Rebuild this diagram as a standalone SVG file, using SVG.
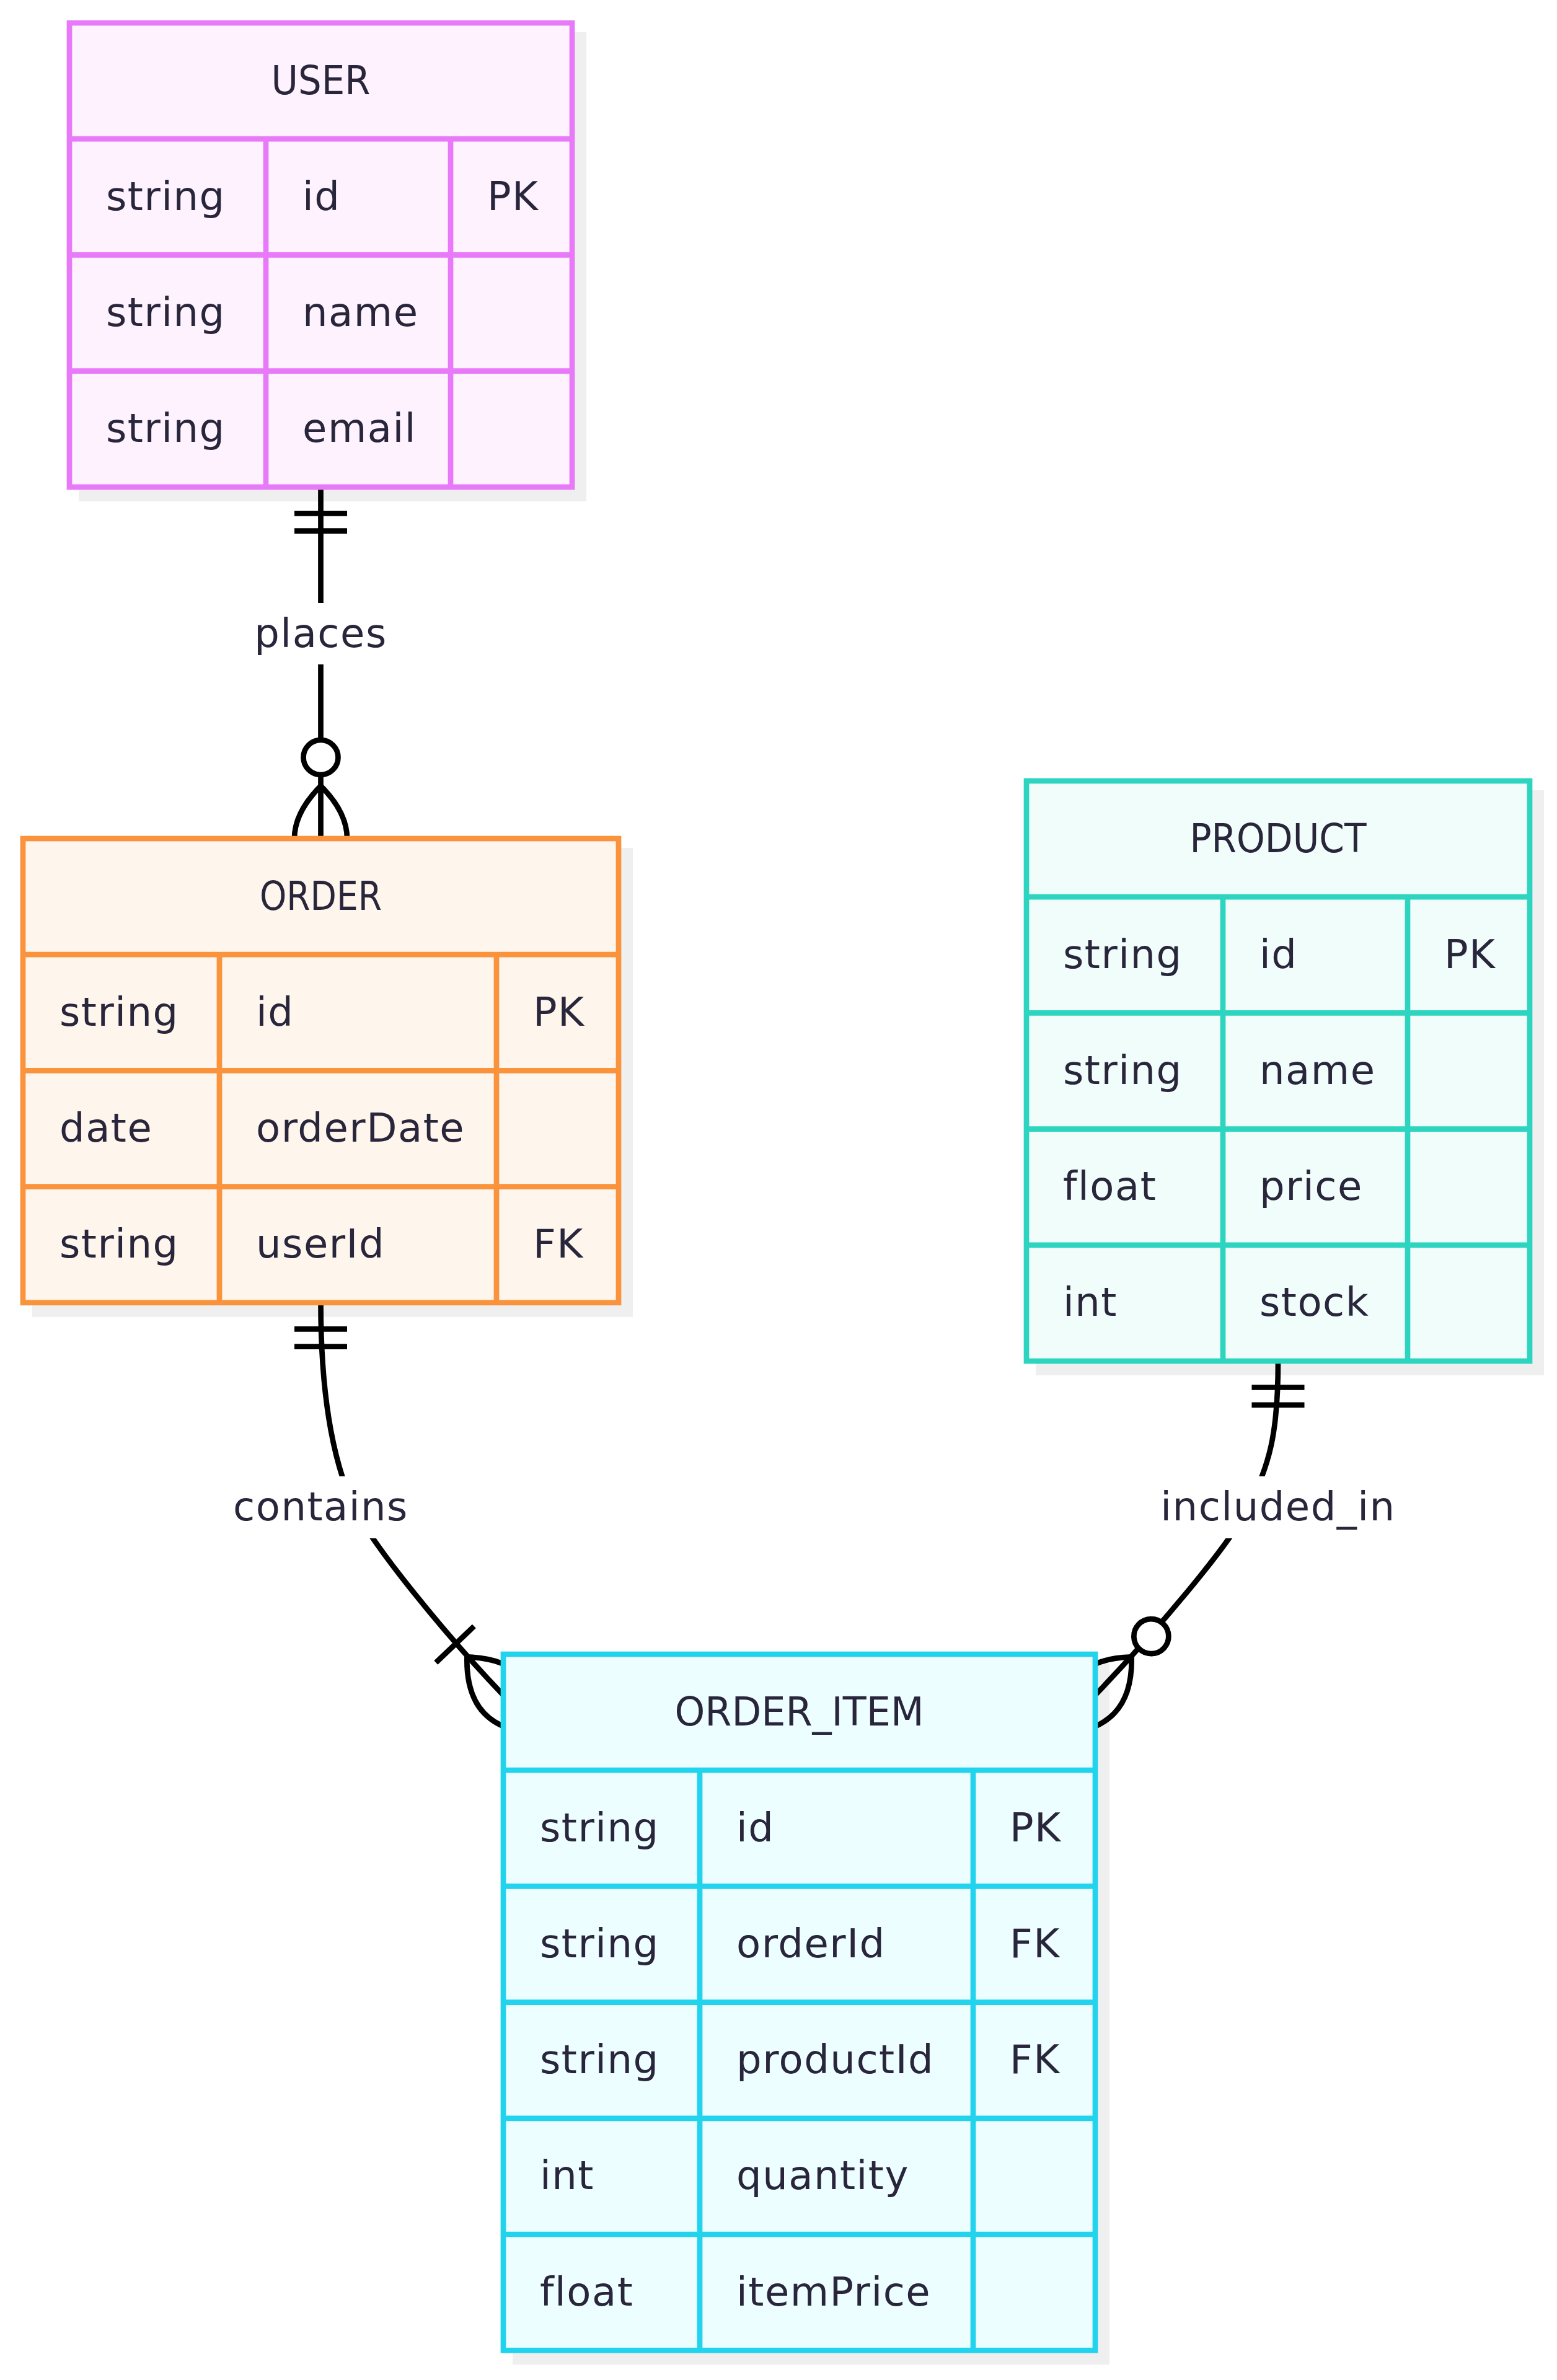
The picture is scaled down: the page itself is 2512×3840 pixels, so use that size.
<svg xmlns="http://www.w3.org/2000/svg" width="2512" height="3840" viewBox="0 0 2512 3840">
<style>
.bg{fill:#ffffff}
.shadow{fill:#efefef}
.box{stroke-width:8.7}
.grid{stroke-width:8.7;fill:none}
.t{font-family:"DejaVu Sans","Liberation Sans",sans-serif;font-size:64px;fill:#29263c;letter-spacing:1.5px}
.c{text-anchor:middle}
.h{letter-spacing:0}
.line{stroke:#000;stroke-width:8.7;fill:none}
.mk{stroke:#000;stroke-width:8.7;fill:none}
.mkc{stroke:#000;stroke-width:8.7;fill:#ffffff}
.lbg{fill:#ffffff}
.user .box,.user .grid{stroke:#e879f9}.user .box{fill:#fdf2fe}
.order .box,.order .grid{stroke:#fb923c}.order .box{fill:#fef5ed}
.product .box,.product .grid{stroke:#2dd4bf}.product .box{fill:#f0fdfa}
.item .box,.item .grid{stroke:#22d3ee}.item .box{fill:#ecfeff}
</style>
<defs>
<g id="onlyOneStart"><path class="mk" d="M-42.5,42.5H42.5M-42.5,70.8H42.5"/></g>
<g id="zeroOrMoreEnd"><path class="mk" d="M0,-85Q85,0 0,85Q-85,0 0,-85"/><circle class="mkc" cx="0" cy="-131" r="28"/></g>
<g id="oneOrMoreEnd"><path class="mk" d="M0,-85Q85,0 0,85Q-85,0 0,-85M-42.5,-113H42.5"/></g>
</defs>
<rect class="bg" x="0" y="0" width="2512" height="3840"/>
<g id="shadows">
<rect class="shadow" x="127" y="52" width="819" height="756.8"/>
<rect class="shadow" x="52" y="1368" width="969" height="756.8"/>
<rect class="shadow" x="1671" y="1275" width="820" height="944"/>
<rect class="shadow" x="827" y="2684" width="963" height="1131.2"/>
</g>
<g id="connectors">
<path class="line" d="M517.5,785.8V1353"/>
<path class="line" d="M517.5,2101.8C517.5,2241 534,2352 571.5,2432C600,2492 716.7,2635 812,2735"/>
<path class="line" d="M2062,2196C2062,2317 2047.6,2362 2014,2432C1985,2492 1862.3,2635 1767,2735"/>
<use href="#onlyOneStart" transform="translate(517.5,785.8)"/>
<use href="#onlyOneStart" transform="translate(517.5,2101.8)"/>
<use href="#onlyOneStart" transform="translate(2062,2196)"/>
<use href="#zeroOrMoreEnd" transform="translate(517.5,1353)"/>
<use href="#oneOrMoreEnd" transform="translate(812,2735) rotate(-43.6)"/>
<use href="#zeroOrMoreEnd" transform="translate(1767,2735) rotate(43.6)"/>
<rect class="lbg" x="405" y="973" width="225" height="99"/>
<text class="t c" x="517.5" y="1043.5">places</text>
<rect class="lbg" x="372" y="2382" width="291" height="100"/>
<text class="t c" x="517.5" y="2453">contains</text>
<rect class="lbg" x="1866" y="2382" width="392" height="100"/>
<text class="t c" x="2062" y="2453">included_in</text>
</g>
<g id="USER" class="user">
<rect class="box" x="112" y="37" width="811" height="748.8"/>
<path class="grid" d="M112,224.2H923M112,411.4H923M112,598.6H923M429,224.2V785.8M727,224.2V785.8"/>
<text class="t c h" x="517.5" y="151.6" textLength="160" lengthAdjust="spacingAndGlyphs">USER</text>
<text class="t" x="171" y="338.8">string</text><text class="t" x="488" y="338.8">id</text><text class="t" x="786" y="338.8">PK</text>
<text class="t" x="171" y="526">string</text><text class="t" x="488" y="526">name</text>
<text class="t" x="171" y="713.2">string</text><text class="t" x="488" y="713.2">email</text>
</g>
<g id="ORDER" class="order">
<rect class="box" x="37" y="1353" width="961" height="748.8"/>
<path class="grid" d="M37,1540.2H998M37,1727.4H998M37,1914.6H998M354,1540.2V2101.8M801,1540.2V2101.8"/>
<text class="t c h" x="517.5" y="1467.6" textLength="197" lengthAdjust="spacingAndGlyphs">ORDER</text>
<text class="t" x="96" y="1654.8">string</text><text class="t" x="413" y="1654.8">id</text><text class="t" x="860" y="1654.8">PK</text>
<text class="t" x="96" y="1842">date</text><text class="t" x="413" y="1842">orderDate</text>
<text class="t" x="96" y="2029.2">string</text><text class="t" x="413" y="2029.2">userId</text><text class="t" x="860" y="2029.2">FK</text>
</g>
<g id="PRODUCT" class="product">
<rect class="box" x="1656" y="1260" width="812" height="936"/>
<path class="grid" d="M1656,1447.2H2468M1656,1634.4H2468M1656,1821.6H2468M1656,2008.8H2468M1973,1447.2V2196M2271,1447.2V2196"/>
<text class="t c h" x="2062" y="1374.6" textLength="285" lengthAdjust="spacingAndGlyphs">PRODUCT</text>
<text class="t" x="1715" y="1561.8">string</text><text class="t" x="2032" y="1561.8">id</text><text class="t" x="2330" y="1561.8">PK</text>
<text class="t" x="1715" y="1749">string</text><text class="t" x="2032" y="1749">name</text>
<text class="t" x="1715" y="1936.2">float</text><text class="t" x="2032" y="1936.2">price</text>
<text class="t" x="1715" y="2123.4">int</text><text class="t" x="2032" y="2123.4">stock</text>
</g>
<g id="ORDER_ITEM" class="item">
<rect class="box" x="812" y="2669" width="955" height="1123.2"/>
<path class="grid" d="M812,2856.2H1767M812,3043.4H1767M812,3230.6H1767M812,3417.8H1767M812,3605H1767M1129,2856.2V3792.2M1570,2856.2V3792.2"/>
<text class="t c h" x="1289.5" y="2783.6" textLength="402" lengthAdjust="spacingAndGlyphs">ORDER_ITEM</text>
<text class="t" x="871" y="2970.8">string</text><text class="t" x="1188" y="2970.8">id</text><text class="t" x="1629" y="2970.8">PK</text>
<text class="t" x="871" y="3158">string</text><text class="t" x="1188" y="3158">orderId</text><text class="t" x="1629" y="3158">FK</text>
<text class="t" x="871" y="3345.2">string</text><text class="t" x="1188" y="3345.2">productId</text><text class="t" x="1629" y="3345.2">FK</text>
<text class="t" x="871" y="3532.4">int</text><text class="t" x="1188" y="3532.4">quantity</text>
<text class="t" x="871" y="3719.6">float</text><text class="t" x="1188" y="3719.6">itemPrice</text>
</g>
</svg>
